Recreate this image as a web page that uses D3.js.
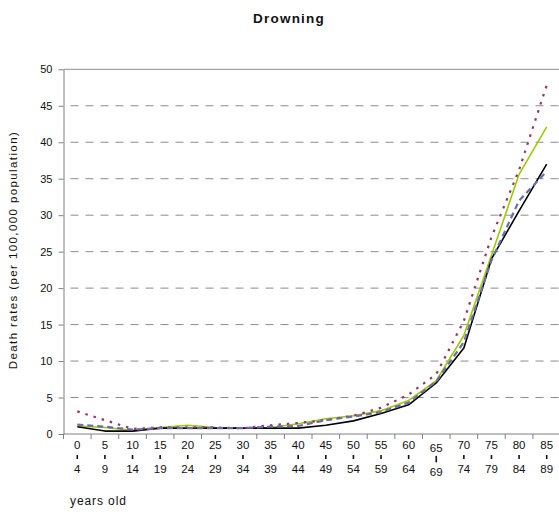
<!DOCTYPE html>
<html>
<head>
<meta charset="utf-8">
<script src="https://cdn.jsdelivr.net/npm/d3@7"></script>
<style>
  html, body { margin: 0; padding: 0; background: #fff; }
  svg { display: block; }
  svg text { font-family: "Liberation Sans", Arial, sans-serif; }
</style>
</head>
<body>
<svg id="chart" width="559" height="514"></svg>
<script>
// Age groups (five-year bands)
const ageGroups = ["0-4","5-9","10-14","15-19","20-24","25-29","30-34","35-39","40-44",
                   "45-49","50-54","55-59","60-64","65-69","70-74","75-79","80-84","85-89"];

// Drowning death rates per 100,000 population, by series
const seriesBlack  = [1.0, 0.4, 0.4, 0.8, 0.8, 0.8, 0.8, 0.8, 0.8, 1.2, 1.8, 2.8, 4.0, 7.0, 11.8, 24.0, 30.6, 37.0];
const seriesGreen  = [1.1, 0.9, 0.5, 0.9, 1.2, 0.9, 0.8, 0.9, 1.4, 2.1, 2.5, 3.2, 4.6, 7.3, 13.5, 24.5, 35.6, 42.1];
const seriesMaroon = [3.1, 1.9, 0.7, 0.9, 0.9, 0.9, 0.8, 1.2, 1.5, 1.9, 2.5, 3.6, 5.4, 8.2, 15.5, 27.0, 36.2, 47.8];
const seriesBlue   = [1.3, 1.0, 0.6, 0.8, 0.8, 0.8, 0.8, 1.0, 1.1, 1.9, 2.4, 3.0, 4.3, 7.2, 12.6, 23.8, 32.0, 36.0];

const yTicks = [0, 5, 10, 15, 20, 25, 30, 35, 40, 45, 50];

const titleText = "Drowning";
const yTitle = "Death rates (per 100,000 population)";
const xTitle = "years old";

const FONT = "'Liberation Sans', Arial, sans-serif";
const svg = d3.select("#chart");

const plotLeft = 63.5, plotRight = 560.5, plotTop = 69.3, plotBottom = 434;

const x = d3.scaleBand().domain(ageGroups).range([plotLeft, plotRight]).padding(0);
const y = d3.scaleLinear().domain([0, 50]).range([plotBottom, plotTop]);
const cx = d => x(d) + x.bandwidth() / 2;

// Gridlines: solid at the top, dashed elsewhere
svg.append("g")
  .selectAll("line")
  .data(yTicks.filter(t => t > 0))
  .join("line")
  .attr("x1", plotLeft).attr("x2", 559)
  .attr("y1", d => y(d)).attr("y2", d => y(d))
  .attr("stroke", "#8c8c8c")
  .attr("stroke-width", 1)
  .attr("stroke-dasharray", d => d === 50 ? null : "8,7")
  .attr("stroke-dashoffset", -7);

// Y axis
const yAxis = svg.append("g")
  .attr("transform", `translate(${plotLeft},0)`)
  .attr("font-family", FONT)
  .call(d3.axisLeft(y).tickValues(yTicks).tickSize(5).tickPadding(6).tickSizeOuter(0));
yAxis.attr("font-family", FONT);
yAxis.select(".domain").attr("stroke", "#808080");
yAxis.selectAll(".tick line").attr("stroke", "#808080");
yAxis.selectAll(".tick text")
  .attr("font-size", 11).attr("fill", "#111")
  .attr("font-family", FONT);

// X axis line and boundary ticks between age groups
svg.append("line")
  .attr("x1", plotLeft).attr("x2", 559)
  .attr("y1", plotBottom).attr("y2", plotBottom)
  .attr("stroke", "#808080");
const boundaries = ageGroups.map(d => x(d)).concat([x(ageGroups[ageGroups.length - 1]) + x.bandwidth()]);
svg.append("g")
  .selectAll("line")
  .data(boundaries.filter(b => b <= 559))
  .join("line")
  .attr("x1", d => d).attr("x2", d => d)
  .attr("y1", plotBottom).attr("y2", plotBottom + 5)
  .attr("stroke", "#808080");

// Two-line age labels with a short bar between start and end
const xl = svg.append("g")
  .attr("font-size", 11.5).attr("font-family", FONT)
  .attr("fill", "#111").attr("text-anchor", "middle");
ageGroups.forEach(g => {
  const [a, b] = g.split("-");
  const shift = g === "65-69" ? 3 : 0;
  const px = cx(g);
  xl.append("text").attr("x", px).attr("y", 448.5 + shift).attr("font-family", FONT).text(a);
  xl.append("line")
    .attr("x1", px).attr("x2", px)
    .attr("y1", 455 + shift * 0.3).attr("y2", 459 + shift * 1.1)
    .attr("stroke", "#111").attr("stroke-width", 1.6);
  xl.append("text").attr("x", px).attr("y", 473 + shift).attr("font-family", FONT).text(b);
});

// Lines
const line = d3.line().x((d, i) => cx(ageGroups[i])).y(d => y(d));
const series = [
  { values: seriesGreen,  color: "#99cc00", width: 1.6, dash: null },
  { values: seriesBlack,  color: "#000000", width: 1.6, dash: null },
  { values: seriesMaroon, color: "#993366", width: 2.2, dash: "2.5,6" },
  { values: seriesBlue,   color: "#6b6bb0", width: 2.2, dash: "6,4" }
];
svg.append("g")
  .selectAll("path")
  .data(series)
  .join("path")
  .attr("d", d => line(d.values))
  .attr("fill", "none")
  .attr("stroke", d => d.color)
  .attr("stroke-width", d => d.width)
  .attr("stroke-dasharray", d => d.dash)
  .attr("stroke-linejoin", "round");

// Titles
svg.append("text")
  .attr("x", 289).attr("y", 23)
  .attr("text-anchor", "middle")
  .attr("font-family", FONT)
  .attr("font-size", 13.5).attr("font-weight", "bold")
  .attr("letter-spacing", 1.2)
  .attr("fill", "#111")
  .text(titleText);

svg.append("text")
  .attr("transform", `translate(17,250) rotate(-90)`)
  .attr("text-anchor", "middle")
  .attr("font-family", FONT)
  .attr("font-size", 11.5)
  .attr("letter-spacing", 1.4)
  .attr("fill", "#111")
  .text(yTitle);

svg.append("text")
  .attr("x", 70).attr("y", 505)
  .attr("font-family", FONT)
  .attr("font-size", 12)
  .attr("letter-spacing", 0.9)
  .attr("fill", "#111")
  .text(xTitle);
</script>
</body>
</html>
